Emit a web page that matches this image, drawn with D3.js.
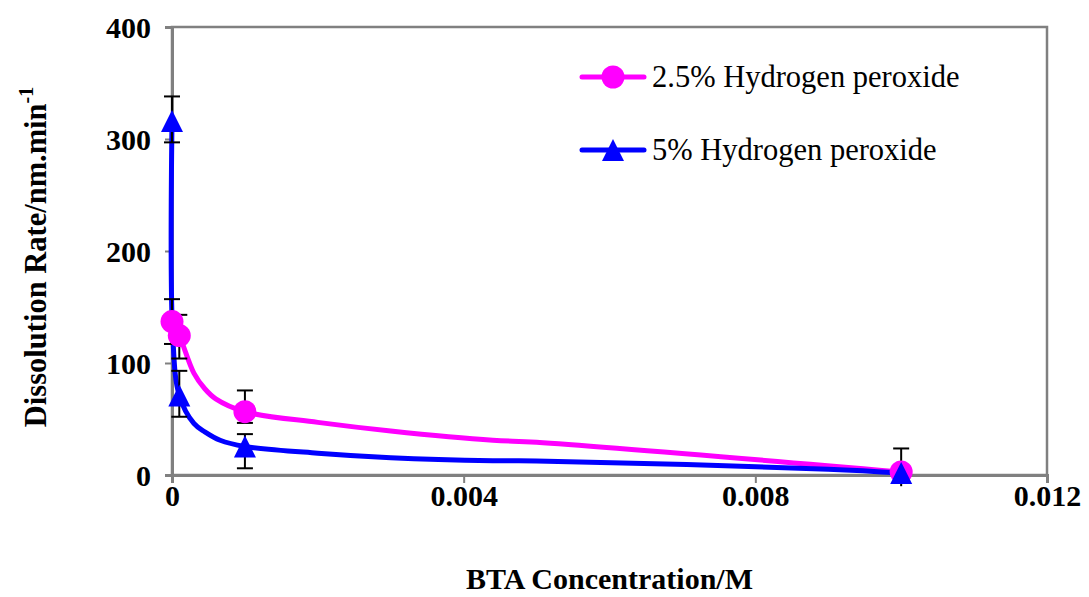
<!DOCTYPE html>
<html>
<head>
<meta charset="utf-8">
<script src="https://cdn.jsdelivr.net/npm/d3@7/dist/d3.min.js"></script>
<style>
  html, body { margin: 0; padding: 0; background: #fff; }
  svg { display: block; }
  text { font-family: "Liberation Serif", "Times New Roman", serif; fill: #000; }
</style>
</head>
<body>
<svg id="chart" width="1089" height="597"></svg>
<script>
// BTA concentration (M) at which dissolution rate was measured
const concentrations = [0, 0.0001, 0.001, 0.01];

// Measured rates (nm/min) with error bar extents
const rate25 = [137, 124.5, 56.5, 2.7];
const errUp25 = [20, 18.5, 19, 21];
const errDown25 = [20, 20.5, 10, 21];

const rate5 = [316, 71, 25.5, 1.8];
const errUp5 = [22, 22, 11, 0];
const errDown5 = [19, 19, 19.5, 0];

// Smoothed trend curves through each series
const curveX25 = [0, 0.0001, 0.0003, 0.00045, 0.0006, 0.001, 0.002, 0.003, 0.0044, 0.005, 0.01];
const curveY25 = [137, 124.5, 91, 77, 68, 56.5, 47, 39.3, 31, 29.3, 2.7];
const curveX5 = [0, 0.00001, 0.0001, 0.0003, 0.00045, 0.00066, 0.001, 0.002, 0.003, 0.0044, 0.005, 0.009, 0.01];
const curveY5 = [316, 125, 71, 46, 38.5, 31, 25.5, 19.5, 15.5, 12.8, 12.6, 5.2, 1.8];

// Axis ticks
const xTicks = [0, 0.004, 0.008, 0.012];
const xTickLabels = ["0", "0.004", "0.008", "0.012"];
const yTicks = [0, 100, 200, 300, 400];

const seriesNames = ["2.5% Hydrogen peroxide", "5% Hydrogen peroxide"];
const seriesColors = ["#ff00ff", "#0000ff"];

const svg = d3.select("#chart");
const plot = { left: 172, right: 1047, top: 27, bottom: 475 };

const x = d3.scaleLinear().domain([0, 0.012]).range([plot.left, plot.right]);
const y = d3.scaleLinear().domain([0, 400]).range([plot.bottom, plot.top]);

const axisColor = "#808080";

// Plot frame (top and right edges)
svg.append("rect")
  .attr("x", plot.left).attr("y", plot.top)
  .attr("width", plot.right - plot.left).attr("height", plot.bottom - plot.top)
  .attr("fill", "none").attr("stroke", axisColor).attr("stroke-width", 2.5);

// X axis
const xAxis = svg.append("g")
  .attr("transform", `translate(0,${plot.bottom})`)
  .call(d3.axisBottom(x).tickValues(xTicks).tickSize(8).tickFormat((d, i) => xTickLabels[i]));
xAxis.select(".domain").attr("stroke", axisColor).attr("stroke-width", 3);
xAxis.selectAll(".tick line").attr("stroke", axisColor).attr("stroke-width", 2);
xAxis.selectAll(".tick text")
  .attr("dy", null).attr("y", 31)
  .style("font-family", "'Liberation Serif', serif")
  .style("font-size", "30px").style("font-weight", "bold").attr("fill", "#000");

// Y axis
const yAxis = svg.append("g")
  .attr("transform", `translate(${plot.left},0)`)
  .call(d3.axisLeft(y).tickValues(yTicks).tickSize(7).tickFormat(d3.format("d")));
yAxis.select(".domain").attr("stroke", axisColor).attr("stroke-width", 3);
yAxis.selectAll(".tick line").attr("stroke", axisColor).attr("stroke-width", 2);
yAxis.selectAll(".tick text")
  .attr("x", -21).attr("dy", "0.34em")
  .style("font-family", "'Liberation Serif', serif")
  .style("font-size", "30px").style("font-weight", "bold").attr("fill", "#000");

// Axis titles
svg.append("text")
  .attr("x", (plot.left + plot.right) / 2).attr("y", 589)
  .attr("text-anchor", "middle")
  .style("font-size", "30px").style("font-weight", "bold")
  .text("BTA Concentration/M");

const yTitle = svg.append("text")
  .attr("transform", "translate(46,257) rotate(-90)")
  .attr("text-anchor", "middle")
  .style("font-size", "30.5px").style("font-weight", "bold");
yTitle.append("tspan").text("Dissolution Rate/nm.min");
yTitle.append("tspan").attr("dy", -13).style("font-size", "20px").text("-1");

// Curves
const line = d3.line()
  .x(d => x(d[0])).y(d => y(d[1]))
  .curve(d3.curveCatmullRom.alpha(0.5));

svg.append("path")
  .datum(d3.zip(curveX25, curveY25))
  .attr("d", line)
  .attr("fill", "none").attr("stroke", seriesColors[0])
  .attr("stroke-width", 5).attr("stroke-linejoin", "round");

svg.append("path")
  .datum(d3.zip(curveX5, curveY5))
  .attr("d", line)
  .attr("fill", "none").attr("stroke", seriesColors[1])
  .attr("stroke-width", 5).attr("stroke-linejoin", "round");

// Error bars (the lower whisker stops just below the axis)
const yFloor = -10;
const capHalf = 8;
function drawErrors(vals, up, down) {
  const g = svg.append("g").attr("stroke", "#000").attr("stroke-width", 2);
  concentrations.forEach((c, i) => {
    if (up[i] === 0 && down[i] === 0) return;
    const cx = x(c);
    const hi = vals[i] + up[i];
    const loRaw = vals[i] - down[i];
    const lo = Math.max(loRaw, yFloor);
    g.append("line").attr("x1", cx).attr("x2", cx).attr("y1", y(hi)).attr("y2", y(lo));
    g.append("line").attr("x1", cx - capHalf).attr("x2", cx + capHalf).attr("y1", y(hi)).attr("y2", y(hi));
    if (loRaw >= yFloor) {
      g.append("line").attr("x1", cx - capHalf).attr("x2", cx + capHalf).attr("y1", y(lo)).attr("y2", y(lo));
    }
  });
}
drawErrors(rate25, errUp25, errDown25);
drawErrors(rate5, errUp5, errDown5);

// Markers
const circleSym = d3.symbol().type(d3.symbolCircle).size(Math.PI * 11.5 * 11.5);
const triSize = 22;
function triPath(s) {
  const h = s / 2;
  return `M0,${-h}L${h},${h}L${-h},${h}Z`;
}

svg.append("g").selectAll("path")
  .data(d3.zip(concentrations, rate25))
  .join("path")
  .attr("transform", d => `translate(${x(d[0])},${y(d[1])})`)
  .attr("d", circleSym())
  .attr("fill", seriesColors[0]);

svg.append("g").selectAll("path")
  .data(d3.zip(concentrations, rate5))
  .join("path")
  .attr("transform", d => `translate(${x(d[0])},${y(d[1])})`)
  .attr("d", triPath(triSize))
  .attr("fill", seriesColors[1]);

// Legend
const legendRows = [
  { y: 77, marker: "circle" },
  { y: 150, marker: "triangle" }
];
legendRows.forEach((r, i) => {
  const g = svg.append("g");
  g.append("line")
    .attr("x1", 582).attr("x2", 644).attr("y1", r.y).attr("y2", r.y)
    .attr("stroke", seriesColors[i]).attr("stroke-width", 5).attr("stroke-linecap", "round");
  if (r.marker === "circle") {
    g.append("path").attr("transform", `translate(613,${r.y})`).attr("d", circleSym()).attr("fill", seriesColors[i]);
  } else {
    g.append("path").attr("transform", `translate(613,${r.y})`).attr("d", triPath(triSize)).attr("fill", seriesColors[i]);
  }
  g.append("text")
    .attr("x", 652).attr("y", r.y).attr("dy", "0.34em")
    .style("font-size", "30.5px")
    .text(seriesNames[i]);
});
</script>
</body>
</html>
